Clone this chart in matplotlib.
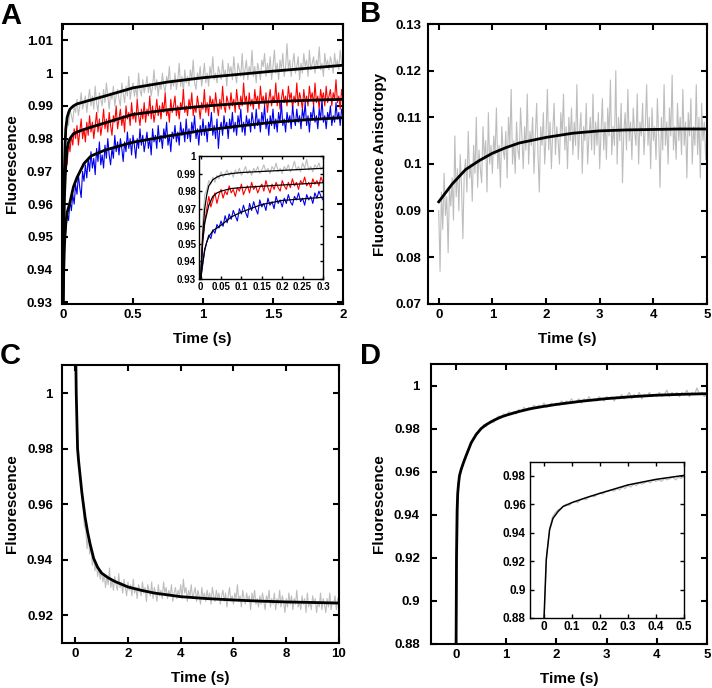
import numpy as np
import matplotlib
matplotlib.use('Agg')
import matplotlib.pyplot as plt
from matplotlib.ticker import FuncFormatter

plt.rcParams['font.family'] = ['Liberation Sans', 'DejaVu Sans']
plt.rcParams['font.weight'] = 'bold'

# ---------------- data ----------------
# panel A: fits (shared time grid, also used by the inset)
a_fit_t = [0, 0.005, 0.01, 0.015, 0.02, 0.03, 0.04, 0.05, 0.075, 0.1, 0.15, 0.2, 0.3,
           0.5, 0.75, 1.0, 1.25, 1.5, 1.75, 2.0]
a_fit_gray = [0.929, 0.955, 0.970, 0.978, 0.983, 0.9865, 0.988, 0.989, 0.990, 0.9906, 0.9912,
              0.9918, 0.9930, 0.9955, 0.9973, 0.9986, 0.9996, 1.0006, 1.0015, 1.0024]
a_fit_red = [0.929, 0.952, 0.962, 0.967, 0.972, 0.977, 0.979, 0.980, 0.9815, 0.982, 0.9828,
             0.9835, 0.9848, 0.9874, 0.9888, 0.9899, 0.9907, 0.9913, 0.9917, 0.9920]
a_fit_blue = [0.929, 0.939, 0.947, 0.951, 0.954, 0.9575, 0.959, 0.9606, 0.9653, 0.9681, 0.9724,
              0.9747, 0.9765, 0.9789, 0.9808, 0.9825, 0.9838, 0.9850, 0.9858, 0.9864]

# panel A: traces, 0..2 s, every 10 ms
a_gray = [0.930, 0.968, 0.982, 0.986, 0.984, 0.989, 0.987, 0.985, 0.990, 0.988,
          0.992, 0.987, 0.990, 0.994, 0.989, 0.991, 0.993, 0.988, 0.992, 0.995,
          0.990, 0.993, 0.989, 0.996, 0.991, 0.988, 0.994, 0.992, 0.990, 0.995,
          0.991, 0.997, 0.993, 0.989, 0.994, 0.992, 0.996, 0.990, 0.993, 0.995,
          0.992, 0.990, 0.997, 0.994, 0.991, 0.996, 0.993, 0.999, 0.992, 0.995,
          0.997, 0.993, 0.996, 0.992, 1.000, 0.995, 0.993, 0.998, 0.994, 0.996,
          0.999, 0.994, 0.997, 0.993, 0.996, 1.001, 0.995, 0.998, 0.993, 0.997,
          0.995, 1.000, 0.996, 0.994, 0.999, 0.997, 1.002, 0.995, 0.998, 0.996,
          1.000, 0.995, 0.998, 1.003, 0.996, 0.999, 0.994, 1.001, 0.997, 0.999,
          0.996, 1.001, 0.998, 1.004, 0.997, 0.995, 1.000, 0.998, 1.002, 0.996,
          0.999, 1.003, 0.997, 1.000, 0.996, 1.002, 0.999, 1.005, 0.998, 1.000,
          0.997, 1.002, 1.000, 0.998, 1.004, 0.999, 1.001, 0.996, 1.003, 1.000,
          1.002, 0.998, 1.005, 1.000, 0.997, 1.003, 1.001, 0.999, 1.006, 0.998,
          1.001, 1.004, 0.998, 1.002, 1.000, 1.007, 0.999, 1.002, 0.997, 1.003,
          1.001, 0.998, 1.004, 1.002, 1.006, 0.999, 1.003, 1.000, 1.005, 0.998,
          1.002, 1.007, 1.000, 1.003, 0.998, 1.004, 1.001, 1.006, 0.999, 1.002,
          1.009, 1.001, 1.004, 0.999, 1.003, 1.006, 1.000, 1.002, 1.005, 0.998,
          1.003, 1.000, 1.006, 1.002, 1.004, 0.999, 1.007, 1.001, 1.003, 1.005,
          1.000, 1.004, 1.002, 1.008, 1.001, 1.003, 0.999, 1.006, 1.002, 1.004,
          1.001, 1.005, 1.003, 1.000, 1.006, 1.002, 1.004, 1.001, 1.007, 1.003,
          1.002]
a_red = [0.930, 0.962, 0.975, 0.972, 0.979, 0.976, 0.981, 0.978, 0.983, 0.980,
         0.984, 0.978, 0.982, 0.986, 0.980, 0.983, 0.979, 0.985, 0.981, 0.987,
         0.982, 0.985, 0.980, 0.984, 0.988, 0.982, 0.986, 0.981, 0.984, 0.989,
         0.983, 0.986, 0.982, 0.988, 0.984, 0.981, 0.987, 0.985, 0.990, 0.983,
         0.986, 0.989, 0.984, 0.987, 0.982, 0.990, 0.986, 0.988, 0.984, 0.991,
         0.986, 0.988, 0.985, 0.992, 0.987, 0.984, 0.989, 0.986, 0.991, 0.985,
         0.989, 0.987, 0.993, 0.986, 0.990, 0.985, 0.988, 0.992, 0.987, 0.990,
         0.986, 0.991, 0.988, 0.994, 0.987, 0.989, 0.985, 0.992, 0.988, 0.990,
         0.993, 0.987, 0.990, 0.986, 0.991, 0.989, 0.995, 0.988, 0.990, 0.987,
         0.992, 0.989, 0.994, 0.987, 0.990, 0.988, 0.993, 0.990, 0.986, 0.991,
         0.989, 0.995, 0.988, 0.991, 0.987, 0.993, 0.990, 0.992, 0.988, 0.994,
         0.990, 0.987, 0.992, 0.989, 0.996, 0.990, 0.988, 0.993, 0.991, 0.989,
         0.994, 0.990, 0.992, 0.988, 0.995, 0.991, 0.989, 0.993, 0.990, 0.997,
         0.991, 0.993, 0.988, 0.994, 0.990, 0.992, 0.989, 0.995, 0.991, 0.993,
         0.989, 0.996, 0.991, 0.993, 0.990, 0.994, 0.988, 0.992, 0.995, 0.990,
         0.993, 0.991, 0.997, 0.990, 0.994, 0.989, 0.992, 0.995, 0.991, 0.993,
         0.990, 0.996, 0.992, 0.994, 0.989, 0.993, 0.991, 0.997, 0.990, 0.994,
         0.992, 0.989, 0.995, 0.991, 0.993, 0.990, 0.996, 0.992, 0.994, 0.990,
         0.997, 0.991, 0.993, 0.989, 0.995, 0.992, 0.994, 0.990, 0.996, 0.991,
         0.993, 0.995, 0.990, 0.994, 0.992, 0.998, 0.991, 0.993, 0.989, 0.995,
         0.992]
a_blue = [0.929, 0.945, 0.952, 0.957, 0.955, 0.961, 0.958, 0.963, 0.960, 0.966,
          0.963, 0.969, 0.965, 0.962, 0.970, 0.967, 0.972, 0.968, 0.974, 0.970,
          0.976, 0.971, 0.974, 0.969, 0.977, 0.973, 0.979, 0.972, 0.975, 0.971,
          0.978, 0.974, 0.980, 0.975, 0.972, 0.977, 0.974, 0.981, 0.976, 0.979,
          0.975, 0.980, 0.977, 0.973, 0.979, 0.976, 0.982, 0.977, 0.980, 0.975,
          0.981, 0.978, 0.974, 0.980, 0.977, 0.983, 0.978, 0.981, 0.976, 0.979,
          0.982, 0.977, 0.980, 0.975, 0.983, 0.979, 0.981, 0.977, 0.984, 0.979,
          0.981, 0.977, 0.983, 0.980, 0.985, 0.978, 0.981, 0.976, 0.982, 0.980,
          0.984, 0.979, 0.982, 0.978, 0.985, 0.981, 0.983, 0.979, 0.986, 0.980,
          0.983, 0.979, 0.985, 0.982, 0.987, 0.980, 0.983, 0.978, 0.984, 0.981,
          0.986, 0.981, 0.984, 0.979, 0.985, 0.983, 0.988, 0.981, 0.984, 0.980,
          0.986, 0.977, 0.983, 0.985, 0.981, 0.987, 0.983, 0.985, 0.980, 0.986,
          0.983, 0.988, 0.982, 0.985, 0.981, 0.987, 0.984, 0.989, 0.982, 0.985,
          0.981, 0.987, 0.984, 0.986, 0.982, 0.988, 0.985, 0.983, 0.989, 0.984,
          0.986, 0.982, 0.988, 0.985, 0.990, 0.983, 0.986, 0.981, 0.987, 0.984,
          0.989, 0.983, 0.986, 0.982, 0.988, 0.985, 0.991, 0.984, 0.986, 0.982,
          0.988, 0.985, 0.987, 0.983, 0.990, 0.986, 0.984, 0.989, 0.985, 0.987,
          0.983, 0.989, 0.986, 0.991, 0.984, 0.987, 0.982, 0.988, 0.986, 0.990,
          0.985, 0.987, 0.983, 0.989, 0.986, 0.992, 0.985, 0.987, 0.983, 0.988,
          0.986, 0.990, 0.984, 0.987, 0.985, 0.991, 0.986, 0.988, 0.984, 0.989,
          0.987]

# panel A inset: traces, 0..0.3 s, every 5 ms
ai_gray = [0.930, 0.962, 0.978, 0.981, 0.986, 0.984, 0.988, 0.985, 0.989, 0.987, 0.991, 0.988,
           0.990, 0.992, 0.989, 0.991, 0.988, 0.992, 0.990, 0.993, 0.989, 0.991, 0.994, 0.990,
           0.992, 0.989, 0.993, 0.991, 0.994, 0.990, 0.992, 0.995, 0.991, 0.993, 0.990, 0.994,
           0.992, 0.996, 0.991, 0.993, 0.990, 0.994, 0.992, 0.995, 0.991, 0.993, 0.997, 0.992,
           0.994, 0.991, 0.996, 0.993, 0.998, 0.992, 0.994, 0.991, 0.995, 0.993, 0.996, 0.992,
           0.994]
ai_red = [0.930, 0.950, 0.962, 0.970, 0.977, 0.971, 0.975, 0.979, 0.973, 0.978, 0.981, 0.976,
          0.980, 0.978, 0.983, 0.979, 0.981, 0.977, 0.982, 0.980, 0.984, 0.978, 0.981, 0.983,
          0.979, 0.985, 0.981, 0.983, 0.979, 0.982, 0.984, 0.980, 0.986, 0.982, 0.979, 0.984,
          0.981, 0.985, 0.982, 0.980, 0.986, 0.983, 0.981, 0.985, 0.982, 0.987, 0.983, 0.985,
          0.981, 0.986, 0.984, 0.988, 0.983, 0.985, 0.982, 0.987, 0.984, 0.986, 0.983, 0.988,
          0.985]
ai_blue = [0.930, 0.938, 0.946, 0.951, 0.955, 0.953, 0.958, 0.956, 0.961, 0.959, 0.963, 0.960,
           0.966, 0.962, 0.967, 0.964, 0.969, 0.966, 0.963, 0.970, 0.967, 0.972, 0.968, 0.965,
           0.973, 0.969, 0.974, 0.970, 0.967, 0.975, 0.971, 0.973, 0.969, 0.976, 0.972, 0.974,
           0.970, 0.977, 0.973, 0.975, 0.971, 0.976, 0.973, 0.978, 0.974, 0.972, 0.977, 0.975,
           0.979, 0.974, 0.976, 0.972, 0.978, 0.975, 0.977, 0.973, 0.979, 0.976, 0.980, 0.977,
           0.975]

# panel B: anisotropy, 0..5 s, every 25 ms
b_fit_t = [0, 0.25, 0.5, 0.75, 1, 1.25, 1.5, 2, 2.5, 3, 3.5, 4, 4.5, 5]
b_fit = [0.0919, 0.0957, 0.0988, 0.1007, 0.1023, 0.1035, 0.1045, 0.1057, 0.1066, 0.1071,
         0.1073, 0.1074, 0.1075, 0.1075]
b_trace = [0.090, 0.077, 0.094, 0.086, 0.098, 0.089, 0.093, 0.081, 0.095, 0.091,
           0.097, 0.088, 0.106, 0.093, 0.099, 0.090, 0.102, 0.095, 0.084, 0.098,
           0.101, 0.094, 0.107, 0.097, 0.100, 0.092, 0.104, 0.098, 0.110, 0.095,
           0.103, 0.099, 0.096, 0.108, 0.101, 0.105, 0.094, 0.111, 0.100, 0.104,
           0.098, 0.106, 0.102, 0.112, 0.099, 0.104, 0.095, 0.108, 0.103, 0.101,
           0.107, 0.097, 0.110, 0.104, 0.116, 0.100, 0.105, 0.098, 0.109, 0.103,
           0.101, 0.112, 0.106, 0.099, 0.108, 0.103, 0.115, 0.100, 0.107, 0.104,
           0.110, 0.098, 0.106, 0.113, 0.102, 0.094, 0.108, 0.104, 0.111, 0.100,
           0.106, 0.116, 0.103, 0.109, 0.099, 0.107, 0.113, 0.102, 0.108, 0.105,
           0.100, 0.111, 0.106, 0.115, 0.103, 0.108, 0.099, 0.110, 0.105, 0.112,
           0.102, 0.109, 0.104, 0.117, 0.101, 0.107, 0.111, 0.098, 0.108, 0.105,
           0.113, 0.100, 0.106, 0.110, 0.103, 0.115, 0.102, 0.109, 0.104, 0.111,
           0.099, 0.107, 0.114, 0.103, 0.109, 0.101, 0.112, 0.106, 0.118, 0.102,
           0.108, 0.104, 0.120, 0.100, 0.110, 0.105, 0.113, 0.096, 0.107, 0.111,
           0.103, 0.116, 0.105, 0.109, 0.101, 0.112, 0.107, 0.104, 0.115, 0.100,
           0.109, 0.106, 0.113, 0.102, 0.108, 0.117, 0.104, 0.110, 0.099, 0.112,
           0.105, 0.108, 0.101, 0.114, 0.106, 0.095, 0.110, 0.103, 0.117, 0.104,
           0.109, 0.100, 0.112, 0.106, 0.119, 0.103, 0.108, 0.101, 0.113, 0.105,
           0.110, 0.102, 0.116, 0.104, 0.109, 0.097, 0.111, 0.106, 0.114, 0.100,
           0.108, 0.104, 0.117, 0.102, 0.110, 0.097, 0.113, 0.105, 0.109, 0.101,
           0.107]

# panel C: fluorescence decrease, 0..10 s, every 50 ms
c_fit_t = [0, 0.02, 0.04, 0.06, 0.09, 0.13, 0.19, 0.25, 0.31, 0.38, 0.47, 0.57, 0.7, 0.85,
           1.0, 1.25, 1.5, 2, 2.5, 3, 4, 5, 6, 7, 8, 9, 10]
c_fit = [1.03, 1.015, 1.0, 0.992, 0.98, 0.9755, 0.97, 0.9645, 0.96, 0.955, 0.95, 0.9455,
         0.9405, 0.9373, 0.9352, 0.9335, 0.9322, 0.9302, 0.929, 0.928, 0.9267, 0.926, 0.9255,
         0.9251, 0.9248, 0.9246, 0.9244]
c_trace = [1.030, 0.997, 0.984, 0.975, 0.968, 0.963, 0.959, 0.952, 0.951, 0.944,
           0.949, 0.942, 0.945, 0.938, 0.941, 0.936, 0.939, 0.934, 0.937, 0.933,
           0.936, 0.932, 0.935, 0.930, 0.934, 0.931, 0.937, 0.930, 0.933, 0.929,
           0.934, 0.931, 0.929, 0.935, 0.930, 0.932, 0.928, 0.933, 0.930, 0.927,
           0.932, 0.929, 0.931, 0.927, 0.933, 0.928, 0.930, 0.926, 0.931, 0.929,
           0.927, 0.932, 0.928, 0.930, 0.925, 0.931, 0.929, 0.927, 0.932, 0.926,
           0.930, 0.928, 0.925, 0.931, 0.927, 0.929, 0.926, 0.932, 0.928, 0.930,
           0.926, 0.929, 0.927, 0.931, 0.925, 0.928, 0.930, 0.926, 0.929, 0.927,
           0.931, 0.926, 0.933, 0.928, 0.930, 0.925, 0.929, 0.927, 0.931, 0.926,
           0.928, 0.930, 0.925, 0.929, 0.927, 0.924, 0.930, 0.926, 0.928, 0.925,
           0.929, 0.926, 0.928, 0.924, 0.930, 0.927, 0.925, 0.929, 0.926, 0.928,
           0.924, 0.927, 0.929, 0.925, 0.928, 0.923, 0.927, 0.930, 0.925, 0.927,
           0.924, 0.928, 0.926, 0.931, 0.925, 0.927, 0.923, 0.929, 0.926, 0.924,
           0.928, 0.925, 0.927, 0.922, 0.928, 0.925, 0.929, 0.924, 0.926, 0.923,
           0.927, 0.924, 0.928, 0.925, 0.922, 0.927, 0.925, 0.929, 0.923, 0.926,
           0.924, 0.928, 0.922, 0.926, 0.924, 0.929, 0.923, 0.927, 0.925, 0.921,
           0.926, 0.923, 0.928, 0.924, 0.927, 0.922, 0.926, 0.924, 0.929, 0.923,
           0.925, 0.922, 0.927, 0.924, 0.926, 0.921, 0.928, 0.923, 0.925, 0.922,
           0.927, 0.924, 0.926, 0.921, 0.925, 0.923, 0.928, 0.922, 0.926, 0.924,
           0.921, 0.926, 0.923, 0.928, 0.922, 0.925, 0.924, 0.927, 0.922, 0.926,
           0.924]

# panel D: fluorescence increase, 0..5 s (fit shared with inset)
d_fit_t = [0, 0.008, 0.02, 0.032, 0.05, 0.068, 0.1, 0.15, 0.2, 0.3, 0.4, 0.5, 0.6, 0.75,
           0.9, 1, 1.25, 1.5, 1.75, 2, 2.5, 3, 3.5, 4, 4.5, 5]
d_fit = [0.879, 0.921, 0.942, 0.950, 0.9548, 0.9583, 0.9611, 0.9645, 0.9676, 0.9735, 0.9774,
         0.9802, 0.9820, 0.9840, 0.9856, 0.9864, 0.9881, 0.9895, 0.9905, 0.9914, 0.9929,
         0.9941, 0.9950, 0.9957, 0.9961, 0.9964]
d_trace = [0.879, 0.956, 0.962, 0.965, 0.968, 0.971, 0.974, 0.976, 0.978, 0.979, 0.980,
           0.982, 0.981, 0.983, 0.984, 0.983, 0.985, 0.986, 0.985, 0.987, 0.986,
           0.988, 0.987, 0.988, 0.987, 0.989, 0.988, 0.990, 0.989, 0.990, 0.989,
           0.991, 0.990, 0.991, 0.990, 0.992, 0.990, 0.991, 0.992, 0.991, 0.992,
           0.991, 0.993, 0.992, 0.993, 0.992, 0.994, 0.992, 0.993, 0.994, 0.992,
           0.994, 0.993, 0.995, 0.993, 0.994, 0.993, 0.995, 0.994, 0.993, 0.995,
           0.994, 0.995, 0.993, 0.995, 0.994, 0.996, 0.994, 0.995, 0.997, 0.994,
           0.996, 0.995, 0.997, 0.994, 0.996, 0.995, 0.997, 0.995, 0.996, 0.995,
           0.997, 0.995, 0.996, 0.998, 0.995, 0.997, 0.996, 0.997, 0.995, 0.997,
           0.996, 0.998, 0.995, 0.997, 0.996, 0.999, 0.996, 0.997, 0.995, 0.997]
di_trace = [0.879, 0.925, 0.943, 0.951, 0.954, 0.956, 0.957, 0.959, 0.960, 0.959, 0.961, 0.962,
            0.961, 0.963, 0.964, 0.963, 0.965, 0.966, 0.965, 0.967, 0.968, 0.967, 0.969, 0.969,
            0.970, 0.969, 0.971, 0.970, 0.972, 0.971, 0.973, 0.972, 0.974, 0.973, 0.975, 0.974,
            0.975, 0.976, 0.975, 0.977, 0.976, 0.977, 0.976, 0.978, 0.977, 0.978, 0.979, 0.977,
            0.979, 0.978, 0.980]

GRAY = '#bdbdbd'
W, H = 712, 688


def box(l, t, r, b):
    return [l / W, 1 - b / H, (r - l) / W, (b - t) / H]


fmt = FuncFormatter(lambda v, p: f'{round(v, 5):g}')


def style(ax, xticks, yticks, xlim, ylim, size=9.5, lw=1.5, tl=4, ypad=6.5, xpad=3.5):
    ax.set_xlim(*xlim)
    ax.set_ylim(*ylim)
    ax.set_xticks(xticks)
    ax.set_yticks(yticks)
    ax.xaxis.set_major_formatter(fmt)
    ax.yaxis.set_major_formatter(fmt)
    ax.tick_params(direction='in', top=True, right=True, length=tl, width=lw,
                   labelsize=size)
    ax.tick_params(axis='y', pad=ypad)
    ax.tick_params(axis='x', pad=xpad)
    for lab in ax.get_xticklabels() + ax.get_yticklabels():
        lab.set_fontweight('bold')
    for s in ax.spines.values():
        s.set_linewidth(lw)


def labels(ax, ylab):
    ax.set_xlabel('Time (s)', fontsize=11, fontweight='bold', labelpad=8)
    ax.set_ylabel(ylab, fontsize=11, fontweight='bold', labelpad=6)


def tgrid(vals, end):
    return np.linspace(0, end, len(vals))


fig = plt.figure(figsize=(W / 100, H / 100), dpi=100)

# ---- A ----
ax = fig.add_axes(box(62, 24, 343, 304))
ax.plot(tgrid(a_gray, 2), a_gray, color=GRAY, lw=0.8)
ax.plot(tgrid(a_red, 2), a_red, color='#ff0000', lw=0.8)
ax.plot(tgrid(a_blue, 2), a_blue, color='#0000ee', lw=0.8)
for f in (a_fit_gray, a_fit_red, a_fit_blue):
    ax.plot(a_fit_t, f, color='black', lw=2)
style(ax, [0, 0.5, 1, 1.5, 2], np.arange(0.93, 1.0101, 0.01), (-0.007, 2), (0.9295, 1.015),
      ypad=6.5)
labels(ax, 'Fluorescence')

axi = fig.add_axes(box(199, 156, 323, 279))
axi.plot(tgrid(ai_gray, 0.3), ai_gray, color=GRAY, lw=0.8)
axi.plot(tgrid(ai_red, 0.3), ai_red, color='#ff0000', lw=0.8)
axi.plot(tgrid(ai_blue, 0.3), ai_blue, color='#0000ee', lw=0.8)
for f in (a_fit_gray, a_fit_red, a_fit_blue):
    axi.plot(a_fit_t, f, color='black', lw=0.9)
style(axi, [0, 0.05, 0.1, 0.15, 0.2, 0.25, 0.3], np.arange(0.93, 1.0001, 0.01),
      (-0.004, 0.3), (0.93, 1.0), size=7, lw=1.0, tl=2.5, ypad=2, xpad=2)

# ---- B ----
ax = fig.add_axes(box(428, 24, 707, 304))
ax.plot(tgrid(b_trace, 5), b_trace, color=GRAY, lw=0.8)
ax.plot(b_fit_t, b_fit, color='black', lw=2)
style(ax, [0, 1, 2, 3, 4, 5], np.arange(0.07, 0.1301, 0.01), (-0.2, 5), (0.07, 0.13),
      ypad=4.5)
labels(ax, 'Fluorescence Anisotropy')

# ---- C ----
ax = fig.add_axes(box(62, 365, 339, 643))
ax.plot(tgrid(c_trace, 10), c_trace, color=GRAY, lw=0.8)
ax.plot(c_fit_t, c_fit, color='black', lw=2)
style(ax, [0, 2, 4, 6, 8, 10], [0.92, 0.94, 0.96, 0.98, 1.0], (-0.5, 10), (0.91, 1.0102),
      ypad=6.5)
labels(ax, 'Fluorescence')

# ---- D ----
ax = fig.add_axes(box(431, 364, 707, 644))
ax.plot(tgrid(d_trace, 5), d_trace, color=GRAY, lw=0.9)
ax.plot(d_fit_t, d_fit, color='black', lw=2)
style(ax, [0, 1, 2, 3, 4, 5], np.arange(0.88, 1.0001, 0.02), (-0.5, 5), (0.88, 1.0102),
      ypad=8)
labels(ax, 'Fluorescence')

axi = fig.add_axes(box(530, 462, 684, 618))
axi.plot(tgrid(di_trace, 0.5), di_trace, color=GRAY, lw=0.8)
axi.plot(d_fit_t, d_fit, color='black', lw=1.1)
style(axi, [0, 0.1, 0.2, 0.3, 0.4, 0.5], np.arange(0.88, 0.9801, 0.02),
      (-0.05, 0.5), (0.88, 0.9896), size=8.5, lw=1.0, tl=3, ypad=3, xpad=2.5)

# panel letters
for letter, x, y in (('A', 0, 2), ('B', 360, 0), ('C', 0, 342), ('D', 360, 342)):
    fig.text(x / W, 1 - y / H, letter, fontsize=21, fontweight='bold', va='top', ha='left')

fig.savefig('out.png', dpi=100)
